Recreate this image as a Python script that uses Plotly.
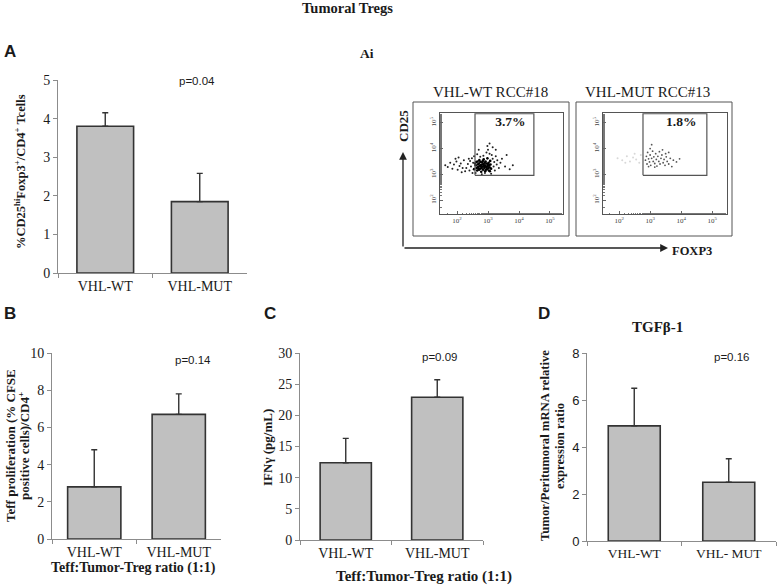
import numpy as np
import plotly.graph_objects as go

W, H = 778, 588

# ---------------- data ----------------
categories_A = ["VHL-WT", "VHL-MUT"]
values_A = [3.8, 1.85]
err_A = [0.35, 0.73]

categories_B = ["VHL-WT", "VHL-MUT"]
values_B = [2.8, 6.7]
err_B = [2.0, 1.1]

categories_C = ["VHL-WT", "VHL-MUT"]
values_C = [12.4, 22.9]
err_C = [3.9, 2.8]

categories_D = ["VHL-WT", "VHL- MUT"]
values_D = [4.9, 2.5]
err_D = [1.6, 1.0]

pvals = ["p=0.04", "p=0.14", "p=0.09", "p=0.16"]

# flow cytometry events (log10 FOXP3, log10 CD25)
wt_core_x = [2.55, 2.60, 2.62, 2.65, 2.68, 2.70, 2.72, 2.74, 2.76, 2.78, 2.80, 2.82, 2.84, 2.85, 2.86, 2.88, 2.90,
             2.91, 2.92, 2.94, 2.95, 2.97, 2.98, 3.00, 3.02, 3.03, 3.05, 3.07, 3.08, 3.10, 2.58, 2.63, 2.67, 2.71,
             2.75, 2.79, 2.83, 2.87, 2.89, 2.93, 2.96, 2.99, 3.01, 3.04, 3.06, 2.81, 2.77, 2.73, 2.69, 2.66]
wt_core_y = [3.20, 3.35, 3.48, 3.15, 3.28, 3.42, 3.55, 3.22, 3.36, 3.10, 3.47, 3.30, 3.18, 3.40, 3.58, 3.25, 3.35,
             3.12, 3.50, 3.28, 3.42, 3.20, 3.62, 3.33, 3.45, 3.15, 3.27, 3.52, 3.38, 3.22, 3.42, 3.25, 3.38, 3.18,
             3.48, 3.24, 3.52, 3.32, 3.45, 3.18, 3.30, 3.40, 3.25, 3.36, 3.12, 3.38, 3.31, 3.33, 3.22, 3.50]
wt_halo_x = [2.30, 2.35, 2.40, 2.42, 2.45, 2.48, 2.50, 2.52, 3.15, 3.18, 3.20, 3.22, 3.25, 3.28, 3.30, 3.12, 3.05,
             2.95, 2.85, 2.75, 2.65, 3.00, 2.90, 2.80, 3.10, 2.60, 3.35, 3.40, 2.38, 2.55,
             1.62, 1.70, 1.78, 1.85, 1.90, 1.98, 2.02, 2.08, 2.12, 2.18, 2.22, 2.26, 1.95, 2.05, 2.15,
             3.05, 3.15, 2.98, 3.45, 3.55, 3.70, 3.80, 3.25, 3.60, 2.70, 1.47, 1.48]
wt_halo_y = [3.25, 3.40, 3.15, 3.52, 3.30, 3.62, 3.05, 3.45, 3.60, 3.30, 3.48, 3.15, 3.70, 3.38, 3.55, 3.75, 3.80,
             3.85, 3.72, 3.68, 3.78, 3.95, 3.05, 3.00, 3.02, 3.05, 3.25, 3.45, 3.60, 3.70,
             3.35, 3.28, 3.45, 3.22, 3.38, 3.50, 3.18, 3.32, 3.42, 3.25, 3.55, 3.12, 3.60, 3.65, 3.08,
             4.20, 4.05, 4.10, 3.60, 3.30, 3.20, 3.35, 3.95, 3.75, 3.95, 3.35, 3.45]

mut_x = [2.85, 2.88, 2.90, 2.92, 2.95, 2.98, 3.00, 3.02, 3.05, 3.08, 3.10, 3.12, 3.15, 3.18, 3.20, 3.22, 3.25, 3.28,
         3.30, 3.32, 3.35, 3.38, 3.42, 3.45, 3.48, 3.52, 3.55, 3.60, 3.65, 3.70, 3.75, 3.85, 3.95, 3.05, 3.40, 2.95,
         3.15, 3.60, 3.00, 3.50]
mut_y = [3.55, 3.70, 3.40, 3.85, 3.60, 3.48, 3.75, 3.35, 3.62, 3.90, 3.50, 3.68, 3.42, 3.80, 3.58, 3.32, 3.70, 3.50,
         3.88, 3.40, 3.62, 3.75, 3.45, 3.58, 3.35, 3.68, 3.50, 3.40, 3.62, 3.30, 3.55, 3.48, 3.60, 4.15, 3.95, 3.30,
         3.28, 3.85, 4.00, 3.80]
mut_faint_x = [1.95, 2.10, 2.25, 2.35, 2.45, 2.55, 2.65, 2.70, 2.20, 2.50]
mut_faint_y = [3.62, 3.55, 3.70, 3.50, 3.65, 3.58, 3.45, 3.75, 3.45, 3.80]

gate_wt_x = [2.58, 4.48]
gate_mut_x = [2.77, 4.83]
gate_y = [2.96, 5.35]
gate_pct = ["3.7%", "1.8%"]
flow_titles = ["VHL-WT RCC#18", "VHL-MUT RCC#13"]
flow_tickvals = [100, 1000, 10000, 100000]
flow_ticktext = ["10<sup>2</sup>", "10<sup>3</sup>", "10<sup>4</sup>", "10<sup>5</sup>"]

# ---------------- styling helpers ----------------
SERIF = "Liberation Serif, Times New Roman, serif"
SANS = "Liberation Sans, Arial, sans-serif"
INK = "#1a1a1a"
AXC = "#8c8c8c"
BARFILL = "#c0c0c0"
BAREDGE = "#333333"


def px(x):
    return x / W


def py(y):
    return 1 - y / H


fig = go.Figure()


def add_bar_panel(idx, cats, vals, errs, width):
    xa = "x" if idx == 1 else f"x{idx}"
    ya = "y" if idx == 1 else f"y{idx}"
    fig.add_trace(go.Bar(
        x=cats, y=vals, width=width, xaxis=xa, yaxis=ya,
        marker=dict(color=BARFILL, line=dict(color=BAREDGE, width=1.6)),
        error_y=dict(type="data", symmetric=False, array=errs, arrayminus=[0] * len(errs),
                     color=BAREDGE, thickness=1.4, width=3),
        hoverinfo="skip"))


add_bar_panel(1, categories_A, values_A, err_A, 0.6)
add_bar_panel(2, categories_B, values_B, err_B, 0.63)
add_bar_panel(3, categories_C, values_C, err_C, 0.56)
add_bar_panel(4, categories_D, values_D, err_D, 0.55)

# flow plots
L = lambda a: (10 ** np.array(a)).tolist()
fig.add_trace(go.Scatter(x=L(wt_halo_x), y=L(wt_halo_y), mode="markers", xaxis="x5", yaxis="y5",
                         marker=dict(color="#222", size=2), hoverinfo="skip"))
fig.add_trace(go.Scatter(x=L(wt_core_x), y=L(wt_core_y), mode="markers", xaxis="x5", yaxis="y5",
                         marker=dict(color="#000", size=2.6), hoverinfo="skip"))
fig.add_trace(go.Scatter(x=L(mut_faint_x), y=L(mut_faint_y), mode="markers", xaxis="x6", yaxis="y6",
                         marker=dict(color="#d8d8d8", size=2), hoverinfo="skip"))
fig.add_trace(go.Scatter(x=L(mut_x), y=L(mut_y), mode="markers", xaxis="x6", yaxis="y6",
                         marker=dict(color="#555", size=1.8), hoverinfo="skip"))

for gx, xa, ya in [(gate_wt_x, "x5", "y5"), (gate_mut_x, "x6", "y6")]:
    gxs = L([gx[0], gx[1], gx[1], gx[0], gx[0]])
    gys = L([gate_y[0], gate_y[0], gate_y[1], gate_y[1], gate_y[0]])
    fig.add_trace(go.Scatter(x=gxs, y=gys, mode="lines", xaxis=xa, yaxis=ya,
                             line=dict(color="#555", width=1.2), hoverinfo="skip"))

for gx, xa, ya, t in [(gate_wt_x, "x5", "y5", gate_pct[0]), (gate_mut_x, "x6", "y6", gate_pct[1])]:
    fig.add_trace(go.Scatter(x=L([gx[0] + 0.6 * (gx[1] - gx[0])]), y=L([4.99]), mode="text", text=[t],
                             xaxis=xa, yaxis=ya, textfont=dict(family=SERIF, size=13.5, color=INK),
                             texttemplate="<b>%{text}</b>", hoverinfo="skip"))


def bar_axes(xd, yd, yr, dtick, tickfont, catsize):
    xax = dict(domain=[px(xd[0]), px(xd[1])], type="category", showline=True, linecolor=AXC, linewidth=1,
               ticks="outside", tickson="boundaries", ticklen=4, tickcolor=AXC, showgrid=False,
               tickfont=dict(family=SERIF, size=catsize, color=INK), fixedrange=True)
    yax = dict(domain=[py(yd[1]), py(yd[0])], range=yr, dtick=dtick, showline=True, linecolor=AXC,
               linewidth=1, ticks="outside", ticklen=4, tickcolor=AXC, showgrid=False, zeroline=False,
               tickfont=tickfont, fixedrange=True)
    return xax, yax


serif_tick = dict(family=SERIF, size=14, color=INK)
sans_tick = dict(family=SANS, size=13, color=INK)

xa1, ya1 = bar_axes((58, 247), (80, 273), [0, 5], 1, serif_tick, 14)
xa2, ya2 = bar_axes((52, 221), (353, 539), [0, 10], 2, serif_tick, 14)
xa3, ya3 = bar_axes((300, 483), (353, 540), [0, 30], 5, serif_tick, 14)
xa4, ya4 = bar_axes((587, 776), (353, 541), [0, 8], 2, sans_tick, 13.5)
for a, i in [(ya1, 1), (ya2, 2), (ya3, 3), (ya4, 4)]:
    a["anchor"] = "x" if i == 1 else f"x{i}"
for a, i in [(xa1, 1), (xa2, 2), (xa3, 3), (xa4, 4)]:
    a["anchor"] = "y" if i == 1 else f"y{i}"


def flow_axes(xd, xr, anchor_y, anchor_x):
    xax = dict(domain=[px(xd[0]), px(xd[1])], type="log", range=xr, showline=True, mirror=True,
               linecolor="#555", linewidth=1, ticks="inside", ticklen=3, tickcolor="#666",
               tickvals=flow_tickvals, ticktext=flow_ticktext, showgrid=False, zeroline=False,
               tickfont=dict(family=SERIF, size=7, color="#444"), anchor=anchor_y,
               minor=dict(ticks="inside", ticklen=1.5, tickcolor="#777", showgrid=False), fixedrange=True)
    yax = dict(domain=[py(214), py(113)], type="log", range=[1.46, 5.38], showline=True, mirror=True,
               linecolor="#555", linewidth=1, ticks="inside", ticklen=3, tickcolor="#666",
               tickvals=flow_tickvals, ticktext=flow_ticktext, showgrid=False, zeroline=False,
               tickangle=-90, tickfont=dict(family=SERIF, size=7, color="#444"), anchor=anchor_x,
               minor=dict(ticks="inside", ticklen=1.5, tickcolor="#777", showgrid=False), fixedrange=True)
    return xax, yax


xa5, ya5 = flow_axes((440, 563), [1.45, 5.42], "y5", "x5")
xa6, ya6 = flow_axes((603, 727), [1.48, 5.48], "y6", "x6")

fig.update_layout(
    width=W, height=H, margin=dict(l=0, r=0, t=0, b=0, autoexpand=False),
    paper_bgcolor="white", plot_bgcolor="white", showlegend=False,
    xaxis=xa1, yaxis=ya1, xaxis2=xa2, yaxis2=ya2, xaxis3=xa3, yaxis3=ya3, xaxis4=xa4, yaxis4=ya4,
    xaxis5=xa5, yaxis5=ya5, xaxis6=xa6, yaxis6=ya6,
)

# frames around the flow panels
for x0, x1 in [(413, 569), (576, 732)]:
    fig.add_shape(type="rect", xref="paper", yref="paper", x0=px(x0), x1=px(x1), y0=py(236), y1=py(102),
                  line=dict(color="#555", width=1))


def ann(x, y, text, size, family=SERIF, bold=False, angle=0, color=INK):
    fig.add_annotation(x=px(x), y=py(y), xref="paper", yref="paper", text=f"<b>{text}</b>" if bold else text,
                       showarrow=False, textangle=angle, xanchor="center", yanchor="middle",
                       font=dict(family=family, size=size, color=color))


ann(347, 8, "Tumoral Tregs", 14.5, bold=True)
ann(10, 52, "A", 17, family=SANS, bold=True)
ann(367, 54, "Ai", 13.5, bold=True)
ann(10, 313, "B", 17, family=SANS, bold=True)
ann(270, 313, "C", 17, family=SANS, bold=True)
ann(544, 313, "D", 17, family=SANS, bold=True)
ann(657, 327, "TGFβ-1", 15, bold=True)

# p-values
ann(197, 81, pvals[0], 11.5, family=SANS)
ann(193, 360, pvals[1], 11.5, family=SANS)
ann(440, 357, pvals[2], 11.5, family=SANS)
ann(732, 357, pvals[3], 11.5, family=SANS)

# axis titles
ann(20, 172, "%CD25<sup>hi</sup>Foxp3<sup>+</sup>/CD4<sup>+</sup> Tcells", 12.5, bold=True, angle=-90)
ann(10, 446, "Teff proliferation (% CFSE", 13, bold=True, angle=-90)
ann(24, 446, "positive cells)/CD4<sup>+</sup>", 13, bold=True, angle=-90)
ann(267, 448, "IFNγ (pg/mL)", 13, bold=True, angle=-90)
ann(545, 446, "Tumor/Peritumoral mRNA relative", 12.7, bold=True, angle=-90)
ann(560, 446, "expression ratio", 12.7, bold=True, angle=-90)
ann(133, 568, "Teff:Tumor-Treg ratio (1:1)", 14, bold=True)
ann(424, 576, "Teff:Tumor-Treg ratio (1:1)", 15, bold=True)

# flow titles and axis labels
ann(490, 92, flow_titles[0], 15)
ann(647, 92, flow_titles[1], 15)
ann(403, 126, "CD25", 13, bold=True, angle=-90)
ann(692, 251, "FOXP3", 12.5, bold=True)

# arrows
fig.add_annotation(x=px(403), y=py(152), xref="paper", yref="paper", ax=0, ay=96, axref="pixel", ayref="pixel",
                   showarrow=True, arrowhead=2, arrowsize=1.2, arrowwidth=1.3, arrowcolor="#222", text="")
fig.add_annotation(x=px(668), y=py(248), xref="paper", yref="paper", ax=-265, ay=0, axref="pixel", ayref="pixel",
                   showarrow=True, arrowhead=2, arrowsize=1.2, arrowwidth=1.3, arrowcolor="#222", text="")

# remove the page's default body margin so the figure sits at the window's top-left corner
fig.write_html("out.html", config={"displayModeBar": False},
               post_script="document.body.style.margin='0px';")
